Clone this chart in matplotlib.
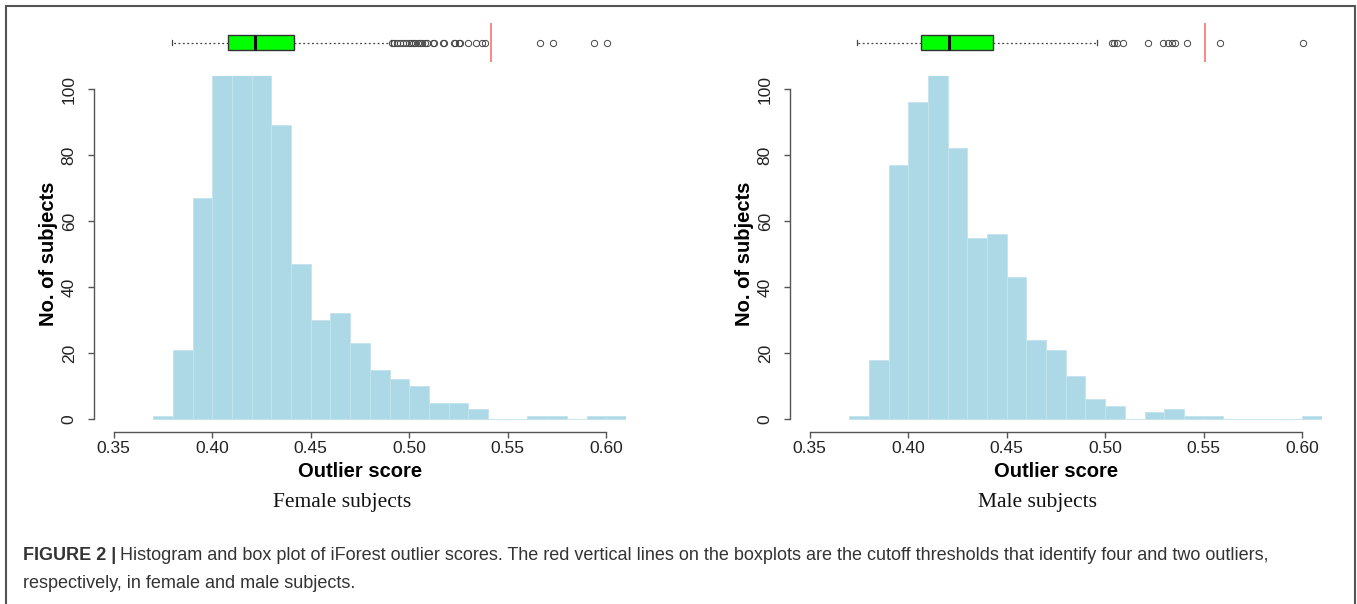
import matplotlib.pyplot as plt
import numpy as np
from matplotlib.patches import Rectangle

# histogram counts, bins 0.37 .. 0.61 width 0.01
bin_edges = [0.37, 0.38, 0.39, 0.40, 0.41, 0.42, 0.43, 0.44, 0.45, 0.46, 0.47, 0.48,
             0.49, 0.50, 0.51, 0.52, 0.53, 0.54, 0.55, 0.56, 0.57, 0.58, 0.59, 0.60, 0.61]
female_counts = [1, 21, 67, 118, 131, 112, 89, 47, 30, 32, 23, 15,
                 12, 10, 5, 5, 3, 0, 0, 1, 1, 0, 1, 1]
male_counts = [1, 18, 77, 96, 108, 82, 55, 56, 43, 24, 21, 13,
               6, 4, 0, 2, 3, 1, 1, 0, 0, 0, 0, 1]

# boxplot summaries
female_box = dict(whislo=0.3797, q1=0.4081, med=0.4215, q3=0.4413, whishi=0.4905)
male_box = dict(whislo=0.3741, q1=0.4066, med=0.4205, q3=0.4429, whishi=0.4960)
female_outliers = [0.4910, 0.4925, 0.4940, 0.4955, 0.4970, 0.4985, 0.5000, 0.5010,
                   0.5020, 0.5030, 0.5045, 0.5055, 0.5065, 0.5080, 0.5090, 0.5120,
                   0.5125, 0.5170, 0.5175, 0.5225, 0.5230, 0.5255, 0.5260, 0.5300,
                   0.5340, 0.5370, 0.5385, 0.5665, 0.5730, 0.5940, 0.6005]
male_outliers = [0.5035, 0.5045, 0.5060, 0.5090, 0.5219, 0.5295, 0.5320, 0.5340,
                 0.5355, 0.5414, 0.5583, 0.6006]
female_cutoff = 0.5415
male_cutoff = 0.5507

x_ticks = [0.35, 0.40, 0.45, 0.50, 0.55, 0.60]
y_ticks = [0, 20, 40, 60, 80, 100]

W, H = 1357, 604
fig = plt.figure(figsize=(W / 100, H / 100), dpi=100)
plt.rcParams['font.family'] = ['Liberation Sans', 'DejaVu Sans']


def px_axes(left, top, right, bottom):
    return fig.add_axes([left / W, 1 - bottom / H, (right - left) / W, (bottom - top) / H])


def draw_panel(left, right, counts, box, outliers, cutoff, sub_title, sub_x):
    # histogram
    ax = px_axes(left, 75.8, right, 432.2)
    ax.bar(bin_edges[:-1], counts, width=0.01, align='edge', color='#add8e6',
           edgecolor='#c4e3ee', linewidth=0.6)
    ax.set_xlim(0.34, 0.61)
    ax.set_ylim(-4, 104)
    for s in ['top', 'right']:
        ax.spines[s].set_visible(False)
    ax.spines['left'].set_bounds(0, 100)
    ax.spines['bottom'].set_bounds(0.35, 0.60)
    for s in ['left', 'bottom']:
        ax.spines[s].set_color('#555555')
        ax.spines[s].set_linewidth(1.0)
    ax.set_xticks(x_ticks)
    ax.set_xticklabels(['%.2f' % v for v in x_ticks])
    ax.set_yticks(y_ticks)
    ax.set_yticklabels([str(v) for v in y_ticks], rotation=90, va='center')
    ax.tick_params(length=4.5, width=1.0, color='#555555', labelsize=12.5,
                   labelcolor='#222222')
    ax.tick_params(axis='y', pad=8)
    ax.tick_params(axis='x', pad=2)
    ax.set_xlabel('Outlier score', fontsize=14.5, fontweight='bold', labelpad=4)
    ax.set_ylabel('No. of subjects', fontsize=14.5, fontweight='bold', labelpad=3)

    # box strip on top
    bx = px_axes(left, 20, right, 65)
    stats = dict(box)
    stats['fliers'] = outliers
    bx.bxp([stats], positions=[0.5], widths=[0.333], vert=False, patch_artist=True,
           showfliers=True,
           boxprops=dict(facecolor='#00ff00', edgecolor='#333333', linewidth=1.0),
           medianprops=dict(color='#111111', linewidth=2.2),
           whiskerprops=dict(color='#444444', linewidth=0.9, linestyle=(0, (1.5, 2))),
           capprops=dict(color='#444444', linewidth=0.9),
           capwidths=[0.1],
           flierprops=dict(marker='o', markersize=4.5, markerfacecolor='none',
                           markeredgecolor='#444444', markeredgewidth=0.7))
    bx.vlines(cutoff, 0.07, 0.93, color='#ff7070', linewidth=1.2)
    bx.set_xlim(0.34, 0.61)
    bx.set_ylim(0, 1)
    bx.axis('off')

    fig.text(sub_x / W, 1 - 502 / H, sub_title, family='Liberation Serif',
             fontsize=15.5, ha='center', va='center', color='#111111')


draw_panel(94.1, 625.9, female_counts, female_box, female_outliers, female_cutoff,
           'Female subjects', 342)
draw_panel(790.1, 1321.7, male_counts, male_box, male_outliers, male_cutoff,
           'Male subjects', 1038)

# caption
cap_size = 13
head = fig.text(23 / W, 1 - 555 / H, 'FIGURE 2 |', fontsize=cap_size, fontweight='bold',
                color='#333333', va='center', ha='left')
renderer = fig.canvas.get_renderer()
head_right = head.get_window_extent(renderer).x1
fig.text((head_right + 4) / W, 1 - 555 / H,
         'Histogram and box plot of iForest outlier scores. The red vertical lines on the '
         'boxplots are the cutoff thresholds that identify four and two outliers,',
         fontsize=cap_size, color='#333333', va='center', ha='left')
fig.text(23 / W, 1 - 583 / H, 'respectively, in female and male subjects.',
         fontsize=cap_size, color='#333333', va='center', ha='left')

# outer frame
fig.patches.append(Rectangle((6 / W, -0.05), (1355 - 6) / W, 1.05 - 6 / H,
                             transform=fig.transFigure, fill=False,
                             edgecolor='#555555', linewidth=1.5))

fig.savefig('out.png', dpi=100)
